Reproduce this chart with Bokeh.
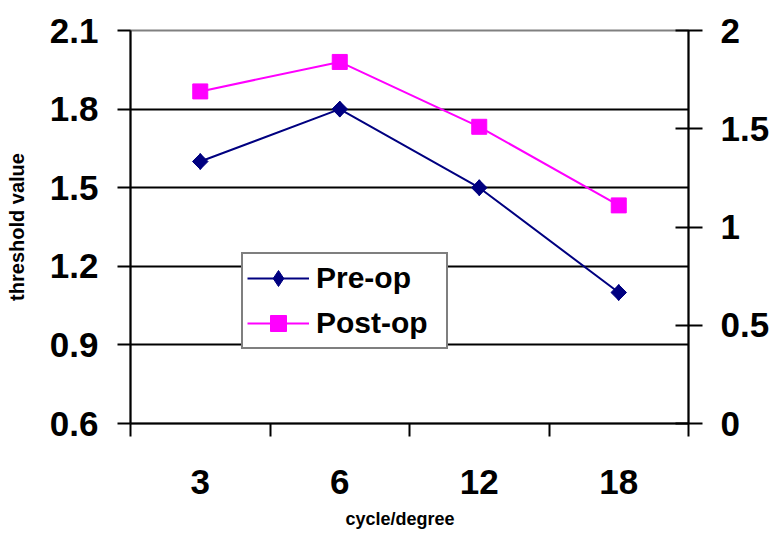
import numpy as np
from bokeh.plotting import figure
from bokeh.models import (Range1d, LinearAxis, FixedTicker, CustomJSTickFormatter,
                          Legend, LegendItem, Grid, Title)
from bokeh.embed import file_html
from bokeh.resources import INLINE

categories = ["3", "6", "12", "18"]
pre_op = [1.6, 1.8, 1.5, 1.1]
post_op = [1.69, 1.84, 1.51, 1.11]
left_ticks = [0.6, 0.9, 1.2, 1.5, 1.8, 2.1]
right_ticks = [0, 0.5, 1, 1.5, 2]

FONT = "Liberation Sans"
x = list(np.arange(len(categories)) + 0.5)

p = figure(width=776, height=538, output_backend="svg", toolbar_location=None,
           x_range=Range1d(0, len(categories)), y_range=Range1d(0.6, 2.1),
           x_axis_type=None, y_axis_type=None,
           min_border_left=130, min_border_right=88, min_border_top=30, min_border_bottom=113)
p.extra_y_ranges = {"right": Range1d(0, 2)}
p.background_fill_color = "white"
p.border_fill_color = "white"
p.outline_line_color = "#808080"
p.outline_line_width = 2

fmt = CustomJSTickFormatter(code="return String(Math.round(tick*10)/10);")

def style_axis(ax, size="35px"):
    ax.axis_line_width = 2
    ax.axis_line_color = "black"
    ax.major_tick_line_width = 2
    ax.major_tick_line_color = "black"
    ax.minor_tick_line_color = None
    ax.major_label_text_font = FONT
    ax.major_label_text_font_style = "bold"
    ax.major_label_text_font_size = size
    ax.major_label_text_color = "black"
    ax.axis_label_text_font = FONT
    ax.axis_label_text_font_style = "bold"
    ax.axis_label_text_color = "black"

# left axis
ya = LinearAxis(ticker=FixedTicker(ticks=left_ticks), formatter=fmt,
                axis_label="threshold value")
style_axis(ya)
ya.major_tick_in = 0
ya.major_tick_out = 13
ya.major_label_standoff = 19
ya.axis_label_text_font_size = "20px"
ya.axis_label_standoff = 19
p.add_layout(ya, "left")

# right axis
ra = LinearAxis(y_range_name="right", ticker=FixedTicker(ticks=right_ticks), formatter=fmt)
style_axis(ra)
ra.major_tick_in = 13
ra.major_tick_out = 14
ra.major_label_standoff = 18
p.add_layout(ra, "right")

# bottom axis
xfmt = CustomJSTickFormatter(args=dict(labels=categories),
                             code="return labels[Math.floor(tick)];")
xa = LinearAxis(ticker=FixedTicker(ticks=x, minor_ticks=list(range(len(categories) + 1))),
                formatter=xfmt)
style_axis(xa)
xa.major_tick_line_color = None
xa.major_tick_in = 0
xa.major_tick_out = 0
xa.minor_tick_in = 0
xa.minor_tick_out = 13
xa.minor_tick_line_width = 2
xa.minor_tick_line_color = "black"
xa.major_label_standoff = 33
p.add_layout(xa, "below")

xt = Title(text="cycle/degree", align="left", offset=215, standoff=20,
           vertical_align="bottom")
xt.text_font = FONT
xt.text_font_style = "bold"
xt.text_font_size = "18px"
xt.text_color = "black"
p.add_layout(xt, "below")

# grid lines
g = Grid(dimension=1, ticker=FixedTicker(ticks=left_ticks[1:-1]))
g.grid_line_color = "black"
g.grid_line_width = 2
p.add_layout(g)

l1 = p.line(x, pre_op, line_color="#000080", line_width=2)
m1_leg = p.scatter(x, pre_op, marker="diamond", size=16,
                   fill_color="#000080", line_color="#000080")
m1 = p.scatter(x, pre_op, marker="square", size=11, angle=np.pi / 4,
               fill_color="#000080", line_color="#000080")
l2 = p.line(x, post_op, line_color="#FF00FF", line_width=2, y_range_name="right")
m2 = p.scatter(x, post_op, marker="square", size=15, fill_color="#FF00FF",
               line_color="#FF00FF", y_range_name="right")

legend = Legend(items=[LegendItem(label="Pre-op", renderers=[l1, m1_leg]),
                       LegendItem(label="Post-op", renderers=[l2, m2])],
                location=(111, 74))
legend.label_text_font = FONT
legend.label_text_font_style = "bold"
legend.label_text_font_size = "30px"
legend.label_text_color = "black"
legend.border_line_color = "black"
legend.border_line_width = 2
legend.background_fill_alpha = 1
legend.padding = 4
legend.spacing = 5
legend.margin = 0
legend.glyph_width = 62
legend.glyph_height = 40
legend.label_height = 40
legend.label_width = 126
legend.label_standoff = 7
p.add_layout(legend, "center")

open("out.html", "w").write(file_html(p, INLINE))
